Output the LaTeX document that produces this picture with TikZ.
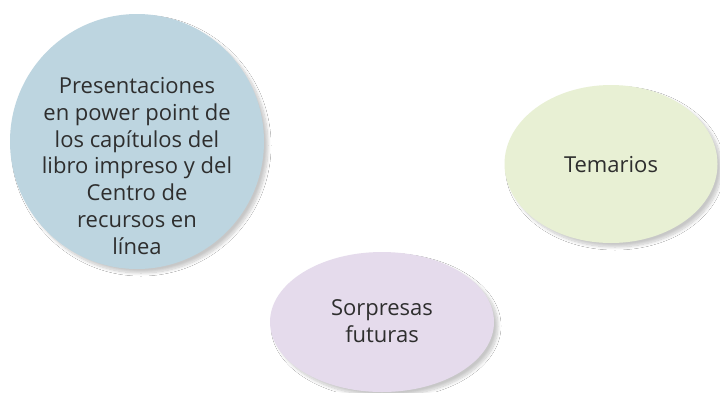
\documentclass[tikz,border=0pt]{standalone}
\usepackage{fontspec}
\setmainfont{Open Sans}
\usetikzlibrary{shapes.geometric,shadows.blur}
\definecolor{cblue}{HTML}{BDD5E0}
\definecolor{cgreen}{HTML}{E8F0D4}
\definecolor{cpurple}{HTML}{E5DBEC}
\definecolor{ctext}{HTML}{2E2E2E}
\begin{document}
\begin{tikzpicture}[x=1pt,y=-1pt,
  bubble/.style={ellipse, inner sep=0pt,
    blur shadow={shadow xshift=4pt, shadow yshift=-4pt, shadow blur radius=3pt, shadow blur steps=10, shadow opacity=22}},
  label/.style={inner sep=0pt, text=ctext, align=center,
    font=\fontsize{22}{26.7}\selectfont}]
\useasboundingbox (0,0) rectangle (720,392);
\fill[white] (0,0) rectangle (720,392);
\node[bubble, fill=cblue, minimum width=254pt, minimum height=255pt] (pres) at (137,141.5) {};
\node[label] (presT) at (137,166)
  {Presentaciones\\en power point de\\los capítulos del\\libro impreso y del\\Centro de\\recursos en\\línea};
\node[bubble, fill=cgreen, minimum width=213pt, minimum height=158pt] (tem) at (611,164) {};
\node[label] (temT) at (611,165) {Temarios};
\node[bubble, fill=cpurple, minimum width=224pt, minimum height=140pt] (sor) at (382,322) {};
\node[label] (sorT) at (382,321) {Sorpresas\\futuras};
\end{tikzpicture}
\end{document}
